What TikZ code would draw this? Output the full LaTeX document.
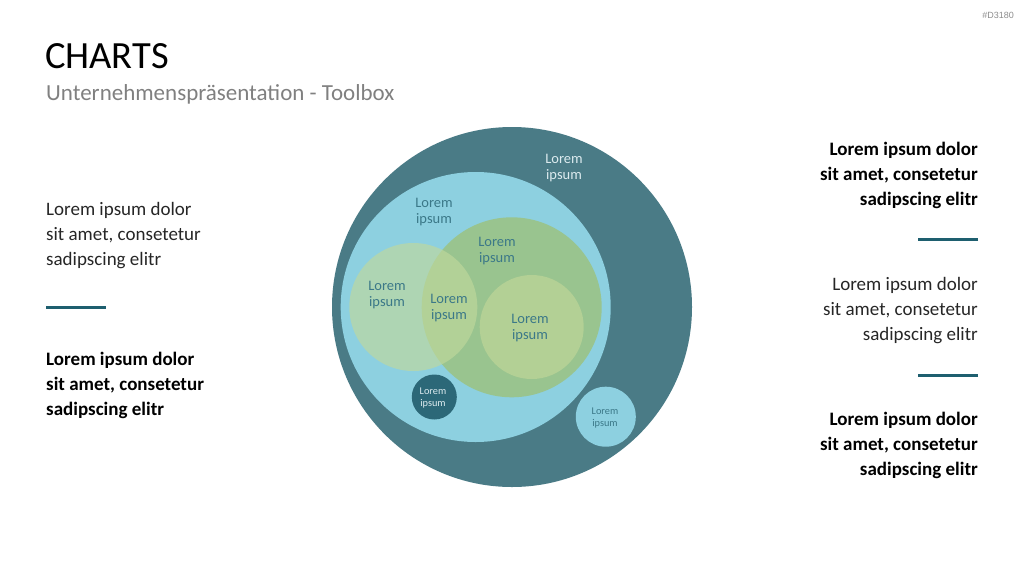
\documentclass[tikz,border=0pt]{standalone}
\usepackage{fontspec}
\setmainfont{Carlito}
\setsansfont{Liberation Sans}
\usepackage{tikz}
\usetikzlibrary{positioning}

\definecolor{outerteal}{HTML}{4A7B86}
\definecolor{skyblue}{HTML}{8DD0E0}
\definecolor{leafgreen}{HTML}{99C48F}
\definecolor{palegreen}{HTML}{C0D89C}
\definecolor{innergreen}{HTML}{B3D095}
\definecolor{deepteal}{HTML}{2C6878}
\definecolor{accentline}{HTML}{1E5F6F}
\definecolor{labelteal}{HTML}{3B7888}
\definecolor{labellight}{HTML}{DCEBEF}
\definecolor{bodygray}{HTML}{262626}

\begin{document}
\begin{tikzpicture}[x=1pt,y=-1pt,
  bubble/.style={circle,inner sep=0pt,minimum size=#1},
  lbl/.style={align=center,text=labelteal,font=\fontsize{14.5}{16.5}\selectfont,inner sep=0pt},
  lblsmall/.style={align=center,font=\fontsize{10.3}{12}\selectfont,inner sep=0pt},
  bodyl/.style={align=left,anchor=north west,inner sep=0pt,text=bodygray,font=\fontsize{19}{25}\selectfont},
  bodyr/.style={align=right,anchor=north east,inner sep=0pt,text=bodygray,font=\fontsize{19}{25}\selectfont},
  boldtxt/.style={font=\bfseries\fontsize{19}{25}\selectfont,text=black},
  sep/.style={draw=accentline,line width=3pt}]
\useasboundingbox (0,0) rectangle (1024,576);

% title
\node[anchor=base west,inner sep=0pt,font=\fontsize{38.5}{40}\selectfont] (title) at (45,68) {CHARTS};
\node[anchor=base west,inner sep=0pt,text=black!50,font=\fontsize{23}{26}\selectfont] (subtitle) at (46,100) {Unternehmenspräsentation - Toolbox};
\node[anchor=base east,inner sep=0pt,text=black!45,font=\sffamily\fontsize{9}{10}\selectfont] (code) at (1014,18) {\#D3180};

% bubbles
\node[bubble=360pt,fill=outerteal] (outer) at (512,307) {};
\node[bubble=270pt,fill=skyblue] (sky) at (475.7,307) {};
\node[bubble=180pt,fill=leafgreen] (leaf) at (511.7,307.3) {};
\node[bubble=128pt,fill=palegreen,fill opacity=0.65] (pale) at (413.3,307) {};
\node[bubble=104pt,fill=innergreen] (inner) at (531.7,327) {};
\node[bubble=45pt,fill=deepteal] (deep) at (434.3,397) {};
\node[bubble=60pt,fill=skyblue] (drop) at (605.8,416.7) {};

% bubble labels
\node[lbl,text=labellight] (outerlbl) at (564,168) {Lorem\\ipsum};
\node[lbl] (skylbl) at (434,212) {Lorem\\ipsum};
\node[lbl] (leaflbl) at (497,251) {Lorem\\ipsum};
\node[lbl] (palelbl) at (387,295) {Lorem\\ipsum};
\node[lbl] (bothlbl) at (449,308) {Lorem\\ipsum};
\node[lbl] (innerlbl) at (530,328) {Lorem\\ipsum};
\node[lblsmall,text=labellight] (deeplbl) at (433,398) {Lorem\\ipsum};
\node[lblsmall,text=labelteal] (droplbl) at (605,418) {Lorem\\ipsum};

% left column
\node[bodyl] (leftA) at (46,202) {Lorem ipsum dolor\\sit amet, consetetur\\sadipscing elitr};
\coordinate (leftsep) at (46,307);
\draw[sep] (leftsep) -- ++(60,0);
\node[bodyl,boldtxt] (leftB) at (46,352) {Lorem ipsum dolor\\sit amet, consetetur\\sadipscing elitr};

% right column
\node[bodyr,boldtxt] (rightA) at (978,142) {Lorem ipsum dolor\\sit amet, consetetur\\sadipscing elitr};
\coordinate (rightsepA) at (978,239);
\draw[sep] (rightsepA) -- ++(-60,0);
\node[bodyr] (rightB) at (978,277) {Lorem ipsum dolor\\sit amet, consetetur\\sadipscing elitr};
\coordinate (rightsepB) at (978,375);
\draw[sep] (rightsepB) -- ++(-60,0);
\node[bodyr,boldtxt] (rightC) at (978,412) {Lorem ipsum dolor\\sit amet, consetetur\\sadipscing elitr};
\end{tikzpicture}
\end{document}
